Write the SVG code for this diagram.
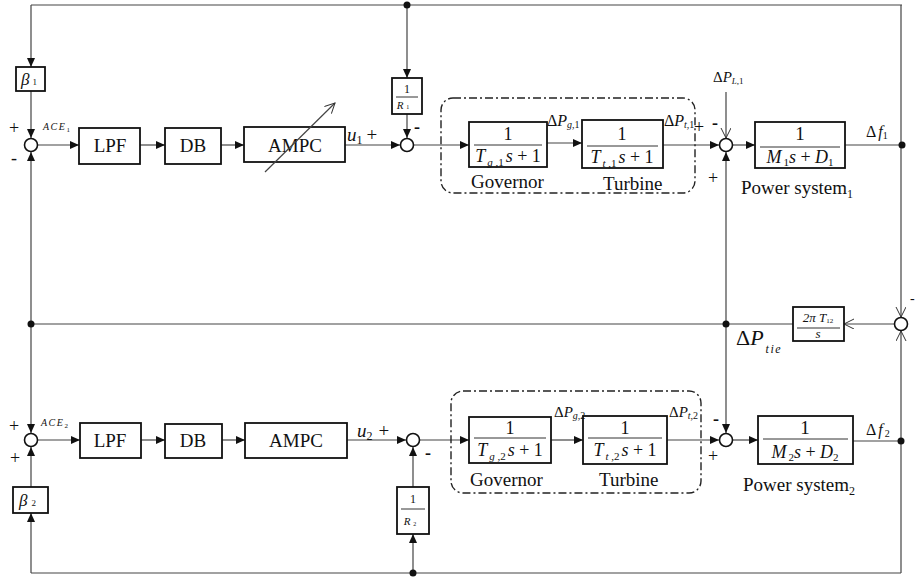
<svg xmlns="http://www.w3.org/2000/svg" width="917" height="579" viewBox="0 0 917 579" font-family="'Liberation Serif', 'DejaVu Serif', 'Times New Roman', serif">
<defs>
<marker id="arr" markerUnits="userSpaceOnUse" markerWidth="10" markerHeight="8" refX="9" refY="4" orient="auto"><path d="M0,0 L9,4 L0,8 z" fill="#111"/></marker>
<marker id="oarr" markerUnits="userSpaceOnUse" markerWidth="12" markerHeight="12" refX="10" refY="5" orient="auto"><path d="M0,0 L10,5 L0,10" fill="none" stroke="#333" stroke-width="1"/></marker>
</defs>
<style>
text{font-family:'Liberation Serif','DejaVu Serif','Times New Roman',serif;fill:#111}
.blk{fill:#fff;stroke:#111;stroke-width:1.8}
.sum{fill:#fff;stroke:#111;stroke-width:1.6}
.ln{fill:none;stroke:#444;stroke-width:1.2}
.a{marker-end:url(#arr)}
.o{marker-end:url(#oarr)}
.frac{stroke:#333;stroke-width:1}
.dd{fill:none;stroke:#222;stroke-width:1.4;stroke-dasharray:8 3 2 3}
.lbl{font-size:19px}
.it{font-style:italic}
.dot{fill:#111}
</style>
<rect width="917" height="579" fill="#fff"/>

<g id="connectors">
<path class="ln" d="M31,5 H902"/>
<path class="ln a" d="M31,5 V67"/>
<path class="ln a" d="M31,91 V138"/>
<path class="ln a" d="M31,324 V152"/>
<path class="ln a" d="M31,324 V433"/>
<path class="ln a" d="M38,145 H79"/>
<path class="ln a" d="M140,145 H165"/>
<path class="ln a" d="M221,145 H244"/>
<path class="ln a" d="M345,145 H400"/>
<path class="ln a" d="M407,5 V78"/>
<path class="ln a" d="M407,114 V138"/>
<path class="ln a" d="M414,145 H469"/>
<path class="ln a" d="M547,143 H582"/>
<path class="ln a" d="M663,145 H719"/>
<path class="ln o" d="M726,92 V138"/>
<path class="ln a" d="M733,145 H755"/>
<path class="ln" d="M845,145 H902"/>
<path class="ln o" d="M901,5 V317"/>
<path class="ln o" d="M901,573 V331"/>
<path class="ln o" d="M894,324 H844"/>
<path class="ln" d="M793,324 H31"/>
<path class="ln a" d="M726,324 V152"/>
<path class="ln a" d="M726,324 V433"/>
<path class="ln a" d="M38,440 H80"/>
<path class="ln a" d="M141,440 H165"/>
<path class="ln a" d="M222,440 H245"/>
<path class="ln a" d="M347,440 H406"/>
<path class="ln a" d="M420,440 H469"/>
<path class="ln a" d="M551,440 H583"/>
<path class="ln a" d="M667,440 H719"/>
<path class="ln a" d="M733,440 H758"/>
<path class="ln" d="M853,441 H901"/>
<path class="ln" d="M31,573 H901"/>
<path class="ln a" d="M31,573 V513"/>
<path class="ln a" d="M31,487 V447"/>
<path class="ln a" d="M413,573 V534"/>
<path class="ln a" d="M413,487 V447"/>
<circle class="dot" cx="407" cy="5" r="3.5"/>
<circle class="dot" cx="902" cy="145" r="3.5"/>
<circle class="dot" cx="31" cy="324" r="3.5"/>
<circle class="dot" cx="726" cy="324" r="3.5"/>
<circle class="dot" cx="901" cy="441" r="3.5"/>
<circle class="dot" cx="413" cy="573" r="3.5"/>
</g>

<g id="area1-group"><rect class="dd" x="441" y="98" width="254" height="95" rx="12"/></g>
<g id="area2-group"><rect class="dd" x="451" y="391" width="250" height="102" rx="12"/></g>

<g id="beta1"><rect class="blk" x="16" y="67" width="29" height="24"/>
<text x="21" y="85" font-size="17" class="it">β<tspan font-size="9" dx="3" font-style="normal">1</tspan></text></g>

<g id="sum1"><circle class="sum" cx="31" cy="145" r="6.5"/>
<text x="9" y="134" font-size="18">+</text><text x="11" y="164" font-size="18">-</text>
<text x="43" y="130" font-size="10" class="it" letter-spacing="1.5">ACE<tspan font-size="7" dy="2" font-style="normal">1</tspan></text></g>

<g id="lpf1"><rect class="blk" x="79" y="128" width="61" height="36"/><text class="lbl" x="110" y="152" text-anchor="middle">LPF</text></g>
<g id="db1"><rect class="blk" x="165" y="128" width="56" height="36"/><text class="lbl" x="193" y="152" text-anchor="middle">DB</text></g>
<g id="ampc1"><rect class="blk" x="244" y="127" width="101" height="35"/><text class="lbl" x="295" y="152" text-anchor="middle">AMPC</text>
<path class="ln o" d="M265,172 L335,103" stroke="#333"/></g>

<g id="u1"><text x="347" y="141" font-size="19" class="it">u<tspan font-size="12" dy="3" font-style="normal">1</tspan><tspan dy="-3" dx="4" font-style="normal">+</tspan></text></g>

<g id="sum2"><circle class="sum" cx="407" cy="145" r="6.5"/><text x="414" y="133" font-size="18" font-weight="bold">-</text></g>

<g id="r1"><rect class="blk" x="392" y="78" width="30" height="36"/>
<text x="407" y="93" font-size="12" text-anchor="middle">1</text><path class="frac" d="M396,97 H418"/>
<text x="403" y="109" font-size="11" text-anchor="middle" class="it">R<tspan font-size="6" dx="3" font-style="normal">1</tspan></text></g>

<g id="gov1"><rect class="blk" x="469" y="122" width="78" height="45"/>
<text x="508" y="140" font-size="18" text-anchor="middle">1</text><path class="frac" d="M474,145 H542"/>
<text x="508" y="162" font-size="18" text-anchor="middle"><tspan class="it">T</tspan><tspan font-size="11" dy="4" dx="2" class="it">g ,</tspan><tspan font-size="11">1</tspan><tspan dy="-4" dx="2" class="it">s</tspan> + 1</text>
<text class="lbl" x="471" y="188">Governor</text></g>

<g id="turb1"><rect class="blk" x="582" y="120" width="81" height="48"/>
<text x="622" y="140" font-size="18" text-anchor="middle">1</text><path class="frac" d="M587,146 H658"/>
<text x="622" y="163" font-size="18" text-anchor="middle"><tspan class="it">T</tspan><tspan font-size="11" dy="4" dx="2" class="it">t ,</tspan><tspan font-size="11">1</tspan><tspan dy="-4" dx="2" class="it">s</tspan> + 1</text>
<text class="lbl" x="603" y="190">Turbine</text></g>

<g id="lbl-pg1"><text x="547" y="126" font-size="16">Δ<tspan class="it">P</tspan><tspan font-size="10" dy="2" class="it">g</tspan><tspan font-size="10">,1</tspan></text></g>
<g id="lbl-pt1"><text x="664" y="126" font-size="16">Δ<tspan class="it">P</tspan><tspan font-size="10" dy="2" class="it">t</tspan><tspan font-size="10">,1</tspan></text><text x="694" y="133" font-size="18">+</text></g>

<g id="sum3"><circle class="sum" cx="726" cy="145" r="6.5"/>
<text x="713" y="82" font-size="15">Δ<tspan class="it">P</tspan><tspan font-size="9" dy="2" class="it">L</tspan><tspan font-size="9">,1</tspan></text>
<text x="712" y="129" font-size="18" font-weight="bold">-</text><text x="708" y="184" font-size="18">+</text></g>

<g id="ps1"><rect class="blk" x="755" y="122" width="90" height="46"/>
<text x="800" y="140" font-size="19" text-anchor="middle">1</text><path class="frac" d="M760,147 H840"/>
<text x="800" y="163" font-size="18" text-anchor="middle"><tspan class="it">M</tspan><tspan font-size="11" dy="3" dx="2">1</tspan><tspan dy="-3" class="it">s</tspan> + <tspan class="it">D</tspan><tspan font-size="11" dy="3">1</tspan></text>
<text class="lbl" x="741" y="194">Power system<tspan font-size="12" dy="4">1</tspan></text>
<text x="866" y="137" font-size="16">Δ<tspan class="it" dx="2">f</tspan><tspan font-size="10" dy="2">1</tspan></text></g>

<g id="sum8"><circle class="sum" cx="901" cy="324" r="6.5"/><text x="910" y="303" font-size="14">-</text></g>

<g id="tie"><rect class="blk" x="793" y="307" width="51" height="34"/>
<text x="818" y="322" font-size="13" text-anchor="middle" class="it">2π T<tspan font-size="7" dy="1" font-style="normal">12</tspan></text>
<path class="frac" d="M797,328 H840"/>
<text x="818" y="338" font-size="13" text-anchor="middle" class="it">s</text>
<text x="736" y="345" font-size="22">Δ<tspan class="it">P</tspan><tspan font-size="12" dy="8" dx="2" class="it" letter-spacing="1.5">tie</tspan></text></g>

<g id="sum5"><circle class="sum" cx="31" cy="440" r="6.5"/>
<text x="9" y="432" font-size="18">+</text><text x="10" y="464" font-size="18">+</text>
<text x="41" y="426" font-size="10" class="it" letter-spacing="1.5">ACE<tspan font-size="7" dy="2" font-style="normal">2</tspan></text></g>

<g id="beta2"><rect class="blk" x="13" y="487" width="35" height="26"/>
<text x="19" y="506" font-size="17" class="it">β<tspan font-size="9" dx="4" font-style="normal">2</tspan></text></g>

<g id="lpf2"><rect class="blk" x="80" y="423" width="61" height="35"/><text class="lbl" x="110" y="447" text-anchor="middle">LPF</text></g>
<g id="db2"><rect class="blk" x="165" y="424" width="57" height="34"/><text class="lbl" x="193" y="447" text-anchor="middle">DB</text></g>
<g id="ampc2"><rect class="blk" x="245" y="423" width="102" height="35"/><text class="lbl" x="296" y="447" text-anchor="middle">AMPC</text></g>

<g id="u2"><text x="357" y="437" font-size="19" class="it">u<tspan font-size="12" dy="3" font-style="normal">2</tspan><tspan dy="-3" dx="6" font-style="normal">+</tspan></text></g>

<g id="sum6"><circle class="sum" cx="413" cy="440" r="6.5"/><text x="425" y="459" font-size="18" font-weight="bold">-</text></g>

<g id="r2"><rect class="blk" x="397" y="487" width="32" height="47"/>
<text x="413" y="503" font-size="12" text-anchor="middle">1</text><path class="frac" d="M401,509 H425"/>
<text x="410" y="525" font-size="11" text-anchor="middle" class="it">R<tspan font-size="6" dx="3" dy="1" font-style="normal">2</tspan></text></g>

<g id="gov2"><rect class="blk" x="469" y="417" width="82" height="46"/>
<text x="510" y="434" font-size="18" text-anchor="middle">1</text><path class="frac" d="M474,438 H546"/>
<text x="510" y="456" font-size="18" text-anchor="middle"><tspan class="it">T</tspan><tspan font-size="11" dy="4" dx="2" class="it">g ,</tspan><tspan font-size="11">2</tspan><tspan dy="-4" dx="2" class="it">s</tspan> + 1</text>
<text class="lbl" x="470" y="486">Governor</text></g>

<g id="turb2"><rect class="blk" x="583" y="416" width="84" height="48"/>
<text x="625" y="434" font-size="18" text-anchor="middle">1</text><path class="frac" d="M588,438 H662"/>
<text x="625" y="456" font-size="18" text-anchor="middle"><tspan class="it">T</tspan><tspan font-size="11" dy="4" dx="2" class="it">t ,</tspan><tspan font-size="11">2</tspan><tspan dy="-4" dx="2" class="it">s</tspan> + 1</text>
<text class="lbl" x="599" y="486">Turbine</text></g>

<g id="lbl-pg2"><text x="554" y="417" font-size="15">Δ<tspan class="it">P</tspan><tspan font-size="10" dy="2" class="it">g</tspan><tspan font-size="10">,2</tspan></text></g>
<g id="lbl-pt2"><text x="669" y="417" font-size="15">Δ<tspan class="it">P</tspan><tspan font-size="10" dy="2" class="it">t</tspan><tspan font-size="10">,2</tspan></text></g>

<g id="sum4"><circle class="sum" cx="726" cy="440" r="6.5"/>
<text x="713" y="425" font-size="18" font-weight="bold">-</text><text x="708" y="462" font-size="18">+</text></g>

<g id="ps2"><rect class="blk" x="758" y="416" width="95" height="48"/>
<text x="805" y="434" font-size="19" text-anchor="middle">1</text><path class="frac" d="M763,439 H848"/>
<text x="805" y="458" font-size="18" text-anchor="middle"><tspan class="it">M</tspan><tspan font-size="11" dy="3" dx="2">2</tspan><tspan dy="-3" class="it">s</tspan> + <tspan class="it">D</tspan><tspan font-size="11" dy="3">2</tspan></text>
<text class="lbl" x="743" y="491">Power system<tspan font-size="12" dy="4">2</tspan></text>
<text x="866" y="435" font-size="16">Δ<tspan class="it" dx="2">f</tspan><tspan font-size="10" dy="2" dx="2">2</tspan></text></g>
</svg>
